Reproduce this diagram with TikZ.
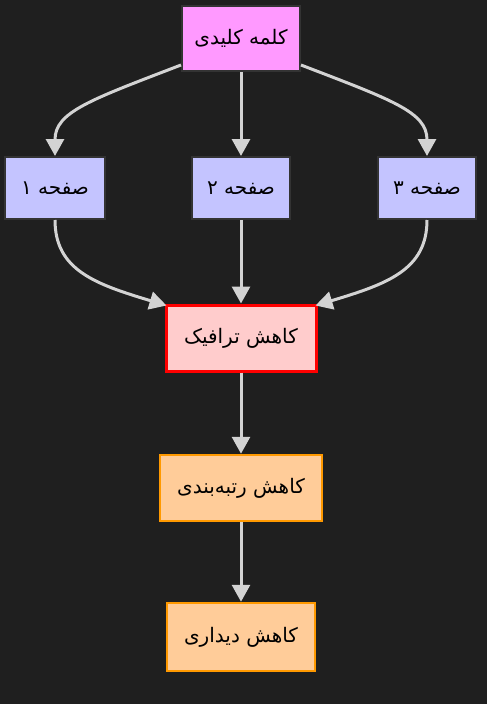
\documentclass[tikz,border=0pt]{standalone}
\usepackage{fontspec}
\setmainfont{DejaVu Sans}
\newfontfamily\arabicfont[Script=Arabic]{DejaVu Sans}
\TeXXeTstate=1
\usetikzlibrary{arrows.meta,calc}
\definecolor{bgc}{HTML}{1F1F1F}
\definecolor{edgec}{HTML}{D3D3D3}
\definecolor{darkb}{HTML}{333333}
\definecolor{pinkf}{HTML}{FF99FF}
\definecolor{bluef}{HTML}{C4C4FF}
\definecolor{redf}{HTML}{FFCCCC}
\definecolor{oranf}{HTML}{FFCC99}
\definecolor{oranb}{HTML}{FF9900}
\newcommand\fatext[1]{\beginR #1\endR}
\begin{document}
\begin{tikzpicture}[x=1pt,y=-1pt,
  box/.style={rectangle, inner sep=0pt, text=black,
    font=\arabicfont\fontsize{20}{24}\selectfont},
  keybox/.style={box, draw=darkb, line width=2pt, fill=pinkf},
  pagebox/.style={box, draw=darkb, line width=2pt, fill=bluef},
  trafbox/.style={box, draw=red, line width=3pt, fill=redf},
  rankbox/.style={box, draw=oranb, line width=2.5pt, fill=oranf},
  conn/.style={draw=edgec, line width=3pt, -{Triangle[length=17pt,width=18pt,fill=edgec]}}
]
\fill[bgc] (0,0) rectangle (487,704);
\useasboundingbox (0,0) rectangle (487,704);

\node[keybox, minimum width=118pt, minimum height=65pt] (k) at (241,38.5) {\fatext{کلمه کلیدی}};
\node[pagebox, minimum width=100pt, minimum height=62pt] (p1) at (55,188) {\fatext{صفحه ۱}};
\node[pagebox, minimum width=98pt, minimum height=62pt] (p2) at (241,188) {\fatext{صفحه ۲}};
\node[pagebox, minimum width=98pt, minimum height=62pt] (p3) at (427,188) {\fatext{صفحه ۳}};
\node[trafbox, minimum width=150pt, minimum height=66pt] (t) at (241,338) {\fatext{کاهش ترافیک}};
\node[rankbox, minimum width=162pt, minimum height=66pt] (r) at (241,488) {\fatext{کاهش رتبه‌بندی}};
\node[rankbox, minimum width=148pt, minimum height=68pt] (v) at (241,637) {\fatext{کاهش دیداری}};

\path[conn] ([yshift=7pt]k.south west) .. controls (90,100) and (55,112) .. (p1.north);
\path[conn] (k.south) -- (p2.north);
\path[conn] ([yshift=7pt]k.south east) .. controls (392,100) and (427,112) .. (p3.north);

\path[conn] (p1.south) .. controls (55,270) and (95,284) .. ([xshift=2pt,yshift=-2pt]t.north west);
\path[conn] (p2.south) -- (t.north);
\path[conn] (p3.south) .. controls (427,270) and (387,284) .. ([xshift=-2pt,yshift=-2pt]t.north east);

\path[conn] (t.south) -- (r.north);
\path[conn] (r.south) -- (v.north);
\end{tikzpicture}
\end{document}
